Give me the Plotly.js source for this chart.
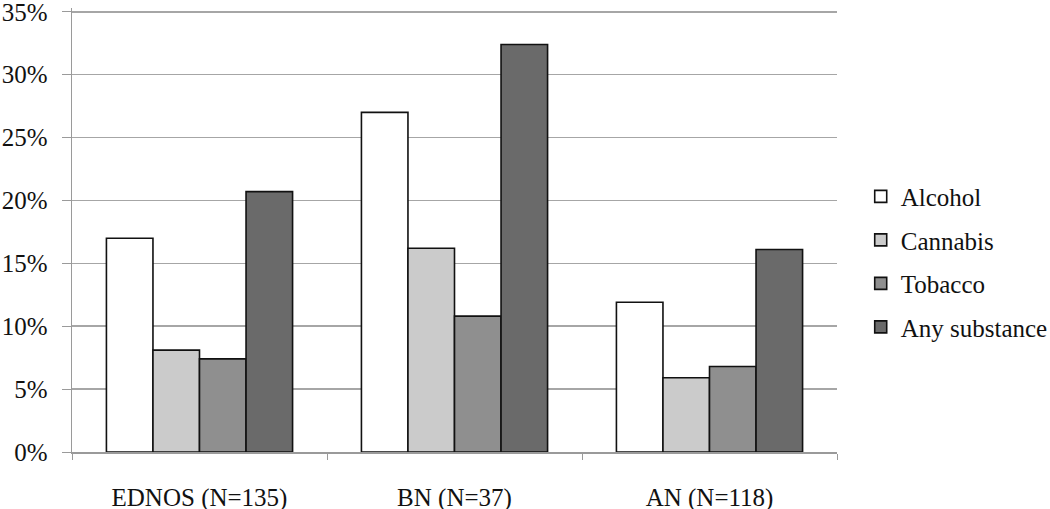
<!DOCTYPE html>
<html>
<head>
<meta charset="utf-8">
<script src="https://cdn.plot.ly/plotly-3.0.1.min.js"></script>
<style>
  body { margin: 0; background: #fff; }
  #chart { width: 1050px; height: 509px; }
</style>
</head>
<body>
<div id="chart"></div>
<script>
// groups on the x axis
let groups = ['EDNOS (N=135)', 'BN (N=37)', 'AN (N=118)'];

// percent of patients per substance
let alcohol = [17.0, 27.0, 11.9];
let cannabis = [8.1, 16.2, 5.9];
let tobacco = [7.4, 10.8, 6.8];
let anySubstance = [20.7, 32.4, 16.1];

let seriesNames = ['Alcohol', 'Cannabis', 'Tobacco', 'Any substance'];
let seriesValues = [alcohol, cannabis, tobacco, anySubstance];
let seriesColors = ['#ffffff', '#cbcbcb', '#8f8f8f', '#6a6a6a'];

let yTicks = [0, 5, 10, 15, 20, 25, 30, 35];
let yTickText = ['0%', '5%', '10%', '15%', '20%', '25%', '30%', '35%'];

let font = '"Liberation Serif", "Times New Roman", Times, serif';

let traces = seriesNames.map((name, i) => ({
    type: 'bar',
    name: name,
    x: groups,
    y: seriesValues[i],
    legendgroup: name,
    marker: {
        color: seriesColors[i],
        line: {color: '#111111', width: 1.6}
    },
    hoverinfo: 'x+y+name'
}));

let layout = {
    width: 1050,
    height: 509,
    margin: {l: 72, r: 213, t: 8, b: 57, autoexpand: false},
    paper_bgcolor: '#ffffff',
    plot_bgcolor: '#ffffff',
    barmode: 'group',
    bargap: 0.27,
    bargroupgap: 0,
    font: {family: font, size: 25, color: '#111111'},
    showlegend: true,
    legend: {
        x: 1.031,
        y: 0.627,
        xanchor: 'left',
        yanchor: 'top',
        traceorder: 'grouped',
        tracegroupgap: 8,
        font: {family: font, size: 25, color: '#111111'},
        itemwidth: 30
    },
    xaxis: {
        showline: true,
        linecolor: '#9a9a9a',
        linewidth: 1.5,
        ticks: 'outside',
        tickson: 'boundaries',
        ticklen: 6,
        tickcolor: '#9a9a9a',
        ticklabelstandoff: 22,
        showgrid: false,
        tickfont: {family: font, size: 25, color: '#111111'}
    },
    yaxis: {
        range: [0, 35.3],
        tickvals: yTicks,
        ticktext: yTickText,
        showline: true,
        linecolor: '#9a9a9a',
        linewidth: 1.5,
        ticks: 'outside',
        ticklen: 9,
        tickcolor: '#9a9a9a',
        showgrid: true,
        gridcolor: '#a6a6a6',
        gridwidth: 1.5,
        zeroline: false,
        ticklabelstandoff: 9,
        ticklabeloverflow: 'allow',
        tickfont: {family: font, size: 25, color: '#111111'}
    }
};

Plotly.newPlot('chart', traces, layout, {displayModeBar: false, staticPlot: true});
</script>
</body>
</html>
